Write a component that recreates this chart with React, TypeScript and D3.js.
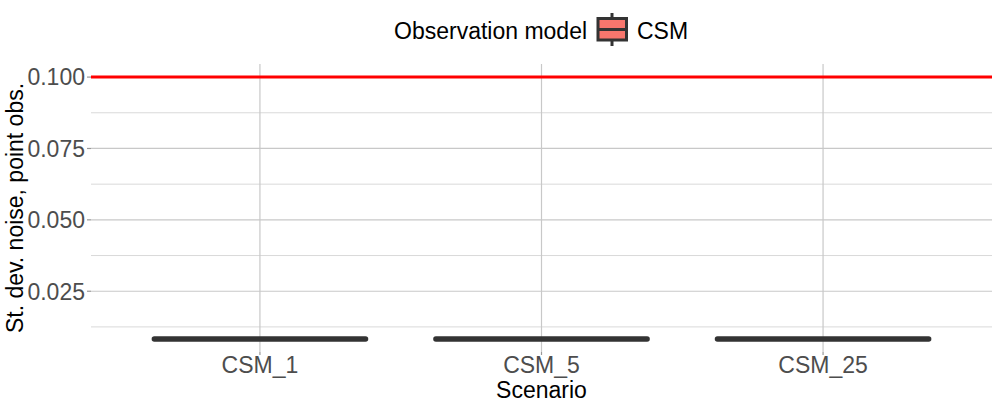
import React from "react";
import * as d3 from "d3";

const scenarios = ["CSM_1", "CSM_5", "CSM_25"];
const boxMin = [0.0083, 0.0083, 0.0083];
const boxQ1 = [0.0083, 0.0083, 0.0083];
const boxMedian = [0.0083, 0.0083, 0.0083];
const boxQ3 = [0.0083, 0.0083, 0.0083];
const boxMax = [0.0083, 0.0083, 0.0083];
const refLine = 0.1;
const yTicks = [0.025, 0.05, 0.075, 0.1];
const yMinorTicks = [0.0125, 0.0375, 0.0625, 0.0875];

const W = 997;
const H = 408;
const panel = { left: 91, right: 992, top: 64, bottom: 352 };
const font = "'Liberation Sans', Arial, Helvetica, sans-serif";
const fill = "#F8766D";
const boxStroke = "#333333";
const fs = 23;

export default function App() {
  const lo = Math.min(...boxMin, refLine);
  const hi = Math.max(...boxMax, refLine);
  const pad = (hi - lo) * 0.05;
  const y = d3.scaleLinear().domain([lo - pad, hi + pad]).range([panel.bottom, panel.top]);
  const n = scenarios.length;
  const x = d3
    .scaleLinear()
    .domain([-0.6, n - 1 + 0.6])
    .range([panel.left, panel.right]);
  const step = x(1) - x(0);
  const bw = step * 0.75;

  return (
    <svg width={W} height={H} style={{ position: "absolute", left: 0, top: 0, fontFamily: font }}>
      <rect width={W} height={H} fill="white" />
      {yMinorTicks.map((t) => (
        <line key={"m" + t} x1={panel.left} x2={panel.right} y1={y(t)} y2={y(t)} stroke="#d9d9d9" strokeWidth={1} />
      ))}
      {yTicks.map((t) => (
        <line key={"g" + t} x1={panel.left} x2={panel.right} y1={y(t)} y2={y(t)} stroke="#c8c8c8" strokeWidth={1.2} />
      ))}
      {scenarios.map((s, i) => (
        <line key={"v" + s} x1={x(i)} x2={x(i)} y1={panel.top} y2={panel.bottom} stroke="#c8c8c8" strokeWidth={1.2} />
      ))}
      {yTicks.map((t) => (
        <line key={"t" + t} x1={panel.left - 4} x2={panel.left} y1={y(t)} y2={y(t)} stroke="#999999" strokeWidth={1.2} />
      ))}
      {scenarios.map((s, i) => (
        <line key={"xt" + s} x1={x(i)} x2={x(i)} y1={panel.bottom} y2={panel.bottom + 3} stroke="#999999" strokeWidth={1.2} />
      ))}
      <line x1={panel.left} x2={panel.right} y1={y(refLine)} y2={y(refLine)} stroke="#FF0000" strokeWidth={3} />
      {scenarios.map((s, i) => {
        const cx = x(i);
        return (
          <g key={"b" + s} stroke={boxStroke} strokeLinecap="round">
            <line x1={cx} x2={cx} y1={y(boxMax[i])} y2={y(boxQ3[i])} strokeWidth={2} />
            <line x1={cx} x2={cx} y1={y(boxQ1[i])} y2={y(boxMin[i])} strokeWidth={2} />
            <rect
              x={cx - bw / 2}
              y={y(boxQ3[i])}
              width={bw}
              height={Math.max(0, y(boxQ1[i]) - y(boxQ3[i]))}
              fill={fill}
              strokeWidth={2}
            />
            <line x1={cx - bw / 2} x2={cx + bw / 2} y1={y(boxMedian[i])} y2={y(boxMedian[i])} strokeWidth={5.5} />
          </g>
        );
      })}
      {yTicks.map((t) => (
        <text key={"yl" + t} x={panel.left - 6} y={y(t)} dy="0.36em" textAnchor="end" fontSize={fs} fill="#4D4D4D">
          {d3.format(".3f")(t)}
        </text>
      ))}
      {scenarios.map((s, i) => (
        <text key={"xl" + s} x={x(i)} y={373} textAnchor="middle" fontSize={fs} fill="#4D4D4D">
          {s}
        </text>
      ))}
      <text x={(panel.left + panel.right) / 2} y={398} textAnchor="middle" fontSize={fs} fill="#000">
        Scenario
      </text>
      <text
        transform={`translate(23, ${(panel.top + panel.bottom) / 2}) rotate(-90)`}
        textAnchor="middle"
        fontSize={fs}
        fill="#000"
      >
        St. dev. noise, point obs.
      </text>
      <text x={394} y={39} fontSize={fs} fill="#000">
        Observation model
      </text>
      <g stroke={boxStroke} strokeWidth={3}>
        <line x1={612} x2={612} y1={13} y2={46} />
        <rect x={598} y={18.5} width={28.5} height={21.5} fill={fill} />
        <line x1={598} x2={626.5} y1={29.5} y2={29.5} />
      </g>
      <text x={637} y={39} fontSize={fs} fill="#000">
        CSM
      </text>
    </svg>
  );
}
